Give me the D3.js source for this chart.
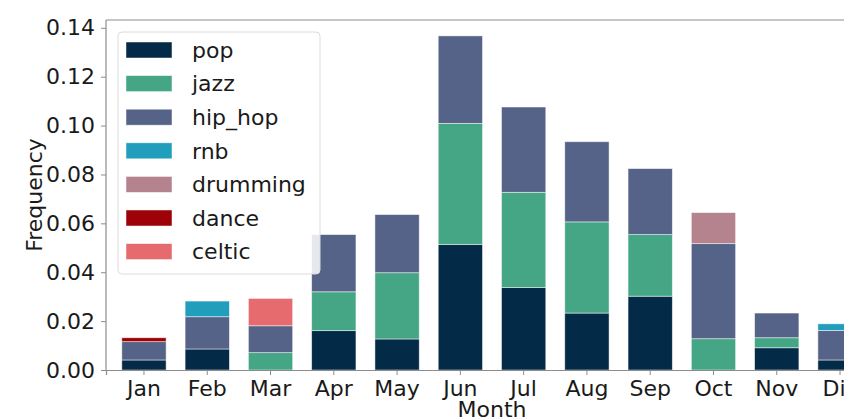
<!DOCTYPE html>
<html>
<head>
<meta charset="utf-8">
<script src="https://cdn.jsdelivr.net/npm/d3@7"></script>
<style>
  body { margin: 0; background: #fff; }
  svg { display: block; font-family: "DejaVu Sans", sans-serif; }
</style>
</head>
<body>
<div id="chart"></div>
<script>
// data
var months = ["Jan", "Feb", "Mar", "Apr", "May", "Jun", "Jul", "Aug", "Sep", "Oct", "Nov", "Dic"];
var genres = ["pop", "jazz", "hip_hop", "rnb", "drumming", "dance", "celtic"];
var colors = ["#032a47", "#44a685", "#556388", "#219ebc", "#b5838d", "#9d0208", "#e56b6f"];

var pop      = [0.0041, 0.0086, 0,      0.0161, 0.0127, 0.0514, 0.0338, 0.0233, 0.0302, 0,      0.0091, 0.0041];
var jazz     = [0,      0,      0.0071, 0.0159, 0.0271, 0.0495, 0.0389, 0.0373, 0.0252, 0.0128, 0.0041, 0];
var hip_hop  = [0.0075, 0.0132, 0.0110, 0.0234, 0.0238, 0.0358, 0.0349, 0.0328, 0.0270, 0.0389, 0.0101, 0.0121];
var rnb      = [0,      0.0064, 0,      0,      0,      0,      0,      0,      0,      0,      0,      0.0027];
var drumming = [0,      0,      0,      0,      0,      0,      0,      0,      0,      0.0127, 0,      0];
var dance    = [0.0016, 0,      0,      0,      0,      0,      0,      0,      0,      0,      0,      0];
var celtic   = [0,      0,      0.0112, 0,      0,      0,      0,      0,      0,      0,      0,      0];
var yTicks = [0, 0.02, 0.04, 0.06, 0.08, 0.10, 0.12, 0.14];

var series = {pop: pop, jazz: jazz, hip_hop: hip_hop, rnb: rnb, drumming: drumming, dance: dance, celtic: celtic};
var data = months.map(function(m, i) {
  var row = {month: m};
  genres.forEach(function(g) { row[g] = series[g][i]; });
  return row;
});

var W = 844, H = 417;
var margin = {top: 20, left: 106},
    plotRight = 878, plotBottom = 370;

var svg = d3.select("#chart").append("svg")
    .attr("width", W).attr("height", H);

var x = d3.scaleBand().domain(months).range([margin.left, plotRight])
    .paddingInner(0.3).paddingOuter(0.25);
var y = d3.scaleLinear().domain([0, 0.1432]).range([plotBottom, margin.top]);
var color = d3.scaleOrdinal().domain(genres).range(colors);

var stacked = d3.stack().keys(genres)(data);

// bars
svg.append("g").selectAll("g").data(stacked).enter().append("g")
    .attr("fill", function(d) { return color(d.key); })
  .selectAll("rect").data(function(d) { return d.filter(function(p) { return p[1] - p[0] > 0; }); })
  .enter().append("rect")
    .attr("x", function(d) { return x(d.data.month); })
    .attr("width", x.bandwidth())
    .attr("y", function(d) { return y(d[1]); })
    .attr("height", function(d) { return y(d[0]) - y(d[1]); })
    .attr("stroke", "#ffffff")
    .attr("stroke-opacity", 0.6)
    .attr("stroke-width", 0.8);

// spines
var spine = "#8c8c8c";
svg.append("line").attr("x1", margin.left).attr("x2", W).attr("y1", margin.top).attr("y2", margin.top)
    .attr("stroke", spine).attr("stroke-width", 1);

// y axis
var yAxis = svg.append("g")
    .attr("transform", "translate(" + margin.left + ",0)")
    .call(d3.axisLeft(y).tickValues(yTicks).tickFormat(d3.format(".2f")).tickSizeOuter(0).tickSize(5).tickPadding(6));
// x axis
var xAxis = svg.append("g")
    .attr("transform", "translate(0," + plotBottom + ")")
    .call(d3.axisBottom(x).tickSizeOuter(0).tickSize(5).tickPadding(5));

[yAxis, xAxis].forEach(function(a) {
  a.select(".domain").attr("stroke", spine).attr("stroke-width", 1.2);
  a.selectAll(".tick line").attr("stroke", spine);
  a.selectAll("text").attr("fill", "#1a1a1a").style("font-size", "22px")
      .style("font-family", "DejaVu Sans");
});
yAxis.select(".domain").attr("d", "M0," + plotBottom + "V" + margin.top);

// axis labels
svg.append("text")
    .attr("transform", "translate(42," + ((margin.top + plotBottom) / 2) + ") rotate(-90)")
    .attr("text-anchor", "middle")
    .style("font-size", "22px").attr("fill", "#1a1a1a")
    .text("Frequency");
svg.append("text")
    .attr("x", (margin.left + plotRight) / 2).attr("y", 417)
    .attr("text-anchor", "middle")
    .style("font-size", "22px").attr("fill", "#1a1a1a")
    .text("Month");

// legend
var legend = svg.append("g");
legend.append("rect")
    .attr("x", 118).attr("y", 32).attr("width", 202).attr("height", 242)
    .attr("rx", 4).attr("fill", "#fff").attr("fill-opacity", 0.85)
    .attr("stroke", "#dcdcdc").attr("stroke-width", 1);
var item = legend.selectAll(".item").data(genres).enter().append("g")
    .attr("transform", function(d, i) { return "translate(126," + (50 + i * 33.6) + ")"; });
item.append("rect")
    .attr("x", 0).attr("y", -8).attr("width", 46).attr("height", 16)
    .attr("fill", function(d) { return color(d); })
    .attr("stroke", "#ffffff").attr("stroke-opacity", 0.6).attr("stroke-width", 0.8);
item.append("text")
    .attr("x", 66).attr("y", 0).attr("dy", "0.35em")
    .style("font-size", "22px").attr("fill", "#1a1a1a")
    .text(function(d) { return d; });
</script>
</body>
</html>
